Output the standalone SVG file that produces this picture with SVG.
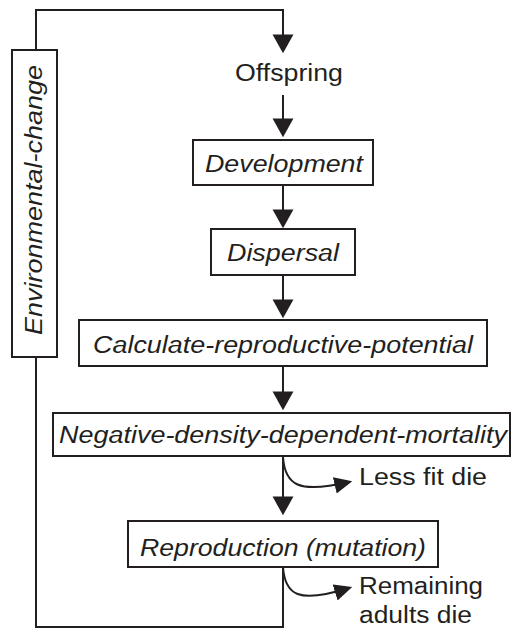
<svg xmlns="http://www.w3.org/2000/svg" width="513" height="631" viewBox="0 0 513 631">
<defs>
<style>
.box{fill:#fff;stroke:#231f20;stroke-width:2}
.ln{fill:none;stroke:#231f20;stroke-width:2}
.t{font-family:"Liberation Sans",Arial,sans-serif;font-size:23px;fill:#231f20}
.i{font-style:italic}
</style>
<marker id="ah" markerUnits="userSpaceOnUse" markerWidth="20" markerHeight="22" viewBox="0 -10 17 20" refX="14" refY="0" orient="auto">
<path d="M0,-9.5 L17,0 L0,9.5 Z" fill="#231f20"/>
</marker>
<marker id="ah2" markerUnits="userSpaceOnUse" markerWidth="18" markerHeight="18" viewBox="0 -8 16 16" refX="13" refY="0" orient="auto">
<path d="M0,-7.5 L16,0 L0,7.5 Z" fill="#231f20"/>
</marker>
</defs>
<g id="connectors">
<path class="ln" d="M36,50 V10 H283 V50" marker-end="url(#ah)"/>
<path class="ln" d="M283,95 V134" marker-end="url(#ah)"/>
<path class="ln" d="M283,185 V225" marker-end="url(#ah)"/>
<path class="ln" d="M283,275 V315" marker-end="url(#ah)"/>
<path class="ln" d="M283,366 V407" marker-end="url(#ah)"/>
<path class="ln" d="M283,456 V512" marker-end="url(#ah)"/>
<path class="ln" d="M283,567 V627 H36 V357"/>
<path class="ln" d="M283,457 C285,485 298,494 349,482" marker-end="url(#ah2)"/>
<path class="ln" d="M283,567 C285,595 298,604 349,588" marker-end="url(#ah2)"/>
</g>
<g id="env">
<rect class="box" x="12" y="50" width="45" height="307"/>
<text class="t i" transform="translate(42,335) rotate(-90)" x="0" y="0" textLength="270" lengthAdjust="spacingAndGlyphs">Environmental-change</text>
</g>
<g id="offspring">
<text class="t" x="235" y="81" textLength="108" lengthAdjust="spacingAndGlyphs">Offspring</text>
</g>
<g id="development">
<rect class="box" x="193" y="140" width="180" height="45"/>
<text class="t i" x="205" y="172" textLength="158" lengthAdjust="spacingAndGlyphs">Development</text>
</g>
<g id="dispersal">
<rect class="box" x="211" y="229" width="144" height="46"/>
<text class="t i" x="227" y="261" textLength="112" lengthAdjust="spacingAndGlyphs">Dispersal</text>
</g>
<g id="calc">
<rect class="box" x="79" y="320" width="408" height="46"/>
<text class="t i" x="93" y="353" textLength="380" lengthAdjust="spacingAndGlyphs">Calculate-reproductive-potential</text>
</g>
<g id="ndd">
<rect class="box" x="53" y="413" width="457" height="43"/>
<text class="t i" x="59" y="443" textLength="448" lengthAdjust="spacingAndGlyphs">Negative-density-dependent-mortality</text>
</g>
<g id="reproduction">
<rect class="box" x="128" y="521" width="310" height="46"/>
<text class="t i" x="140" y="556" textLength="286" lengthAdjust="spacingAndGlyphs">Reproduction (mutation)</text>
</g>
<g id="lessfit">
<text class="t" x="359" y="485" textLength="128" lengthAdjust="spacingAndGlyphs">Less fit die</text>
</g>
<g id="remaining">
<text class="t" x="359" y="594" textLength="124" lengthAdjust="spacingAndGlyphs">Remaining</text>
<text class="t" x="359" y="623" textLength="113" lengthAdjust="spacingAndGlyphs">adults die</text>
</g>
</svg>
